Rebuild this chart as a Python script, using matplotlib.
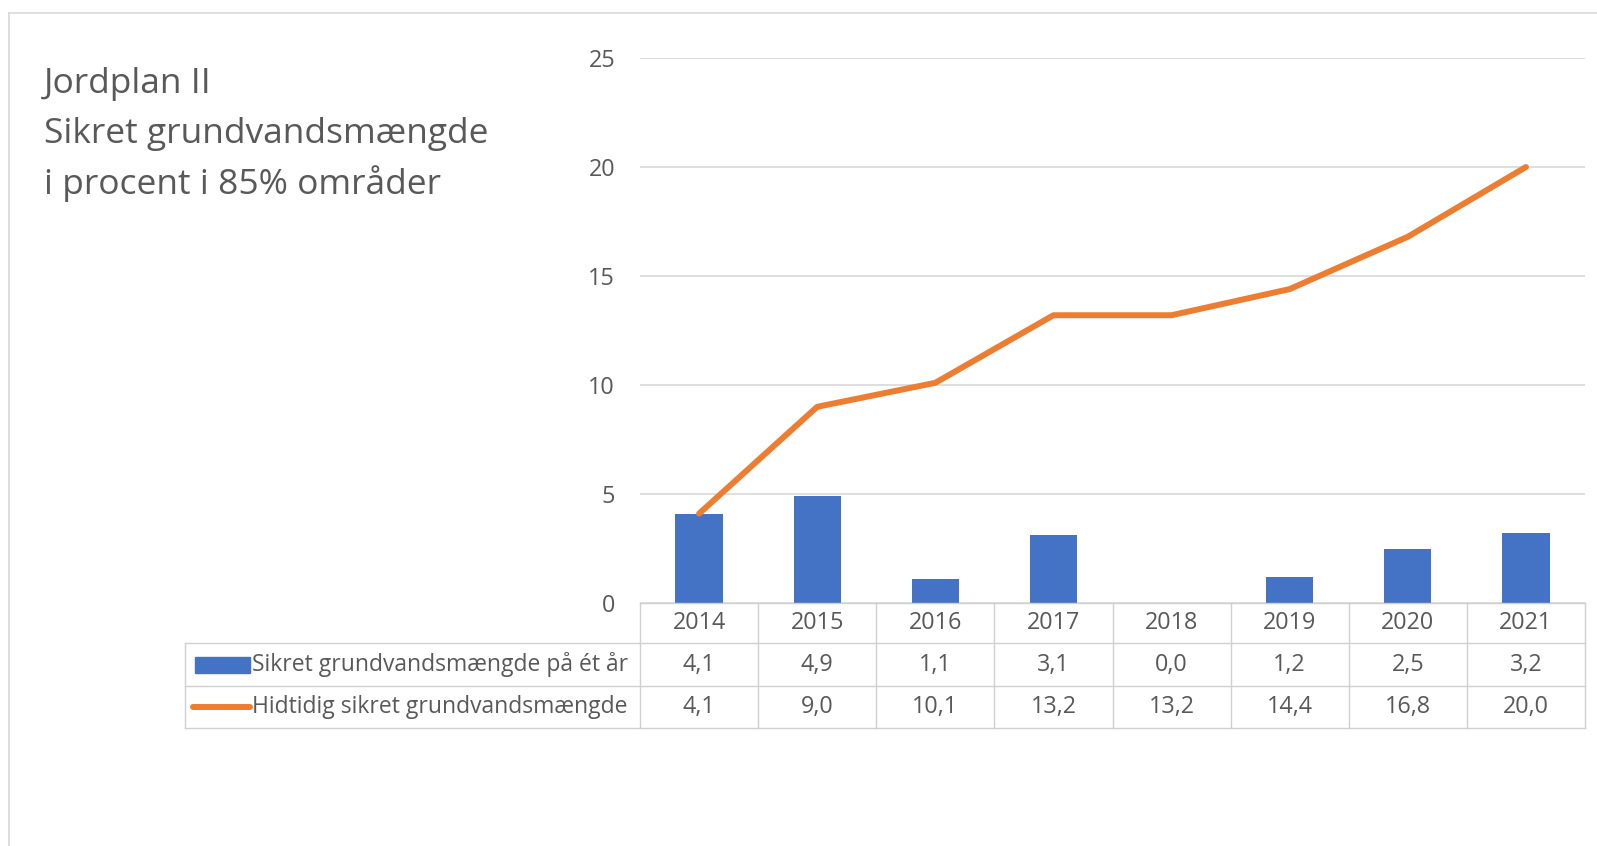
import matplotlib
matplotlib.use("Agg")
import matplotlib.pyplot as plt
from matplotlib.patches import Rectangle
from matplotlib.lines import Line2D

years = ["2014", "2015", "2016", "2017", "2018", "2019", "2020", "2021"]
annual = [4.1, 4.9, 1.1, 3.1, 0.0, 1.2, 2.5, 3.2]
cumulative = [4.1, 9.0, 10.1, 13.2, 13.2, 14.4, 16.8, 20.0]
series_names = ["Sikret grundvandsmængde på ét år", "Hidtidig sikret grundvandsmængde"]
title_lines = ["Jordplan II", "Sikret grundvandsmængde", "i procent i 85% områder"]
yticks = [0, 5, 10, 15, 20, 25]

BLUE = "#4472C4"
ORANGE = "#ED7D31"
GRID = "#D9D9D9"
TXT = "#595959"
FONT = ["Open Sans", "DejaVu Sans"]
FS = 16.8

W, H = 1597, 846
fig = plt.figure(figsize=(W / 100, H / 100), dpi=100)
fig.patch.set_facecolor("white")

def fx(px):
    return px / W

def fy(py):
    return 1 - py / H

# outer frame
fig.add_artist(Line2D([fx(9), fx(9)], [fy(13), fy(846)], color="#D9D9D9", lw=1.2))
fig.add_artist(Line2D([fx(9), fx(1597)], [fy(13), fy(13)], color="#D9D9D9", lw=1.2))

# title
for i, t in enumerate(title_lines):
    fig.text(fx(44), fy(84 + i * 50), t, fontsize=25.5, color=TXT, family=FONT,
             va="center", ha="left")

# main axes
L, R, T, B = 640, 1585, 58, 603
ax = fig.add_axes([fx(L), fy(B), fx(R - L), (B - T) / H])
x = list(range(len(years)))
ax.bar(x, annual, width=0.4, color=BLUE, zorder=2)
ax.plot(x, cumulative, color=ORANGE, lw=4.3, zorder=3, solid_capstyle="round")
ax.set_xlim(-0.5, len(years) - 0.5)
ax.set_ylim(0, 25)
ax.set_yticks(yticks)
ax.set_yticklabels([str(v) for v in yticks], family=FONT, fontsize=FS, color=TXT)
ax.tick_params(axis="y", length=0, pad=18)
ax.set_xticks([])
ax.grid(axis="y", color=GRID, lw=1.2, zorder=0)
for s in ax.spines.values():
    s.set_visible(False)

# data table
TL = 185
rows_y = [603, 643, 686, 728]
colw = (R - L) / len(years)
lc = "#D0D0D0"
lw = 1.0
fig.add_artist(Line2D([fx(L), fx(R)], [fy(603), fy(603)], color=lc, lw=lw))
for yy in rows_y[1:]:
    fig.add_artist(Line2D([fx(TL), fx(R)], [fy(yy), fy(yy)], color=lc, lw=lw))
fig.add_artist(Line2D([fx(TL), fx(TL)], [fy(643), fy(728)], color=lc, lw=lw))
for i in range(len(years) + 1):
    xx = L + i * colw
    fig.add_artist(Line2D([fx(xx), fx(xx)], [fy(603), fy(728)], color=lc, lw=lw))

for i, yr in enumerate(years):
    fig.text(fx(L + (i + 0.5) * colw), fy((rows_y[0] + rows_y[1]) / 2), yr,
             ha="center", va="center", fontsize=FS, color=TXT, family=FONT)
for r, (vals, name) in enumerate(zip([annual, cumulative], series_names)):
    yc = (rows_y[r + 1] + rows_y[r + 2]) / 2
    for i, v in enumerate(vals):
        fig.text(fx(L + (i + 0.5) * colw), fy(yc), f"{v:.1f}".replace(".", ","),
                 ha="center", va="center", fontsize=FS, color=TXT, family=FONT)
    fig.text(fx(252), fy(yc), name, ha="left", va="center", fontsize=16.5,
             color=TXT, family=FONT)

# legend keys
y1 = (rows_y[1] + rows_y[2]) / 2
fig.add_artist(Rectangle((fx(195), fy(y1 + 8)), fx(250) - fx(195), 16 / H,
                         color=BLUE, transform=fig.transFigure))
y2 = (rows_y[2] + rows_y[3]) / 2
fig.add_artist(Line2D([fx(193), fx(250)], [fy(y2), fy(y2)], color=ORANGE, lw=4.3,
                      solid_capstyle="round"))

fig.savefig("out.png", dpi=100)
